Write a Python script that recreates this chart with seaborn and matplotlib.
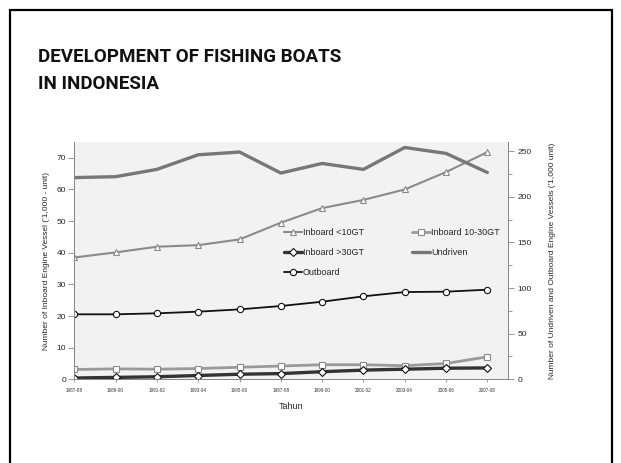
import matplotlib
matplotlib.use("Agg")
import matplotlib.pyplot as plt
import seaborn as sns
import pandas as pd
from matplotlib.patches import Rectangle

years = ["1987-88", "1989-90", "1991-92", "1993-94", "1995-96", "1997-98",
         "1999-00", "2001-02", "2003-04", "2005-06", "2007-08"]
inboard_lt10 = [38.5, 40.1, 41.9, 42.4, 44.2, 49.5, 54.1, 56.7, 60.0, 65.5, 71.8]
inboard_10_30 = [3.1, 3.3, 3.2, 3.4, 3.8, 4.2, 4.6, 4.6, 4.3, 5.0, 7.1]
inboard_gt30 = [0.4, 0.6, 0.8, 1.2, 1.6, 1.8, 2.4, 2.9, 3.2, 3.5, 3.6]
outboard = [71.2, 71.2, 72.3, 74.1, 76.6, 80.3, 85.0, 90.9, 95.6, 96.0, 98.2]
undriven = [221, 222, 230, 246, 249, 226, 236.5, 230, 254, 247.5, 226.6]

sns.set_style("white")
plt.rcParams['font.family'] = ['Liberation Sans', 'DejaVu Sans']

fig = plt.figure(figsize=(6.21, 4.63), dpi=100)
fig.patches.append(Rectangle((10/621, -0.1), (612-10)/621, (453+0.1*463)/463,
                             transform=fig.transFigure, fill=False,
                             edgecolor='black', linewidth=1.6))
fig.text(38/621, 1 - 89/463, "DEVELOPMENT OF FISHING BOATS\nIN INDONESIA",
         fontsize=13.5, fontweight='bold', family=['Roboto', 'DejaVu Sans'],
         va='baseline', ha='left', linespacing=1.65, color='#111111')

ax = fig.add_axes([74.3/621, 1 - 379.3/463, (508 - 74.3)/621, (379.3 - 142)/463])
ax.set_facecolor('#f2f2f2')
ax2 = ax.twinx()

x = list(range(len(years)))
df = pd.DataFrame({"x": x, "lt10": inboard_lt10, "m10_30": inboard_10_30,
                   "gt30": inboard_gt30, "out": outboard, "und": undriven})

sns.lineplot(data=df, x="x", y="lt10", ax=ax, color='#8a8a8a', lw=1.5,
             marker='^', markersize=5, markerfacecolor='white',
             markeredgecolor='#8a8a8a', markeredgewidth=0.8, label="Inboard <10GT")
sns.lineplot(data=df, x="x", y="m10_30", ax=ax, color='#9a9a9a', lw=2.0,
             marker='s', markersize=4.5, markerfacecolor='white',
             markeredgecolor='#8a8a8a', markeredgewidth=0.8, label="Inboard 10-30GT")
sns.lineplot(data=df, x="x", y="gt30", ax=ax, color='#333333', lw=2.4,
             marker='D', markersize=4, markerfacecolor='white',
             markeredgecolor='#111111', markeredgewidth=0.8, label="Inboard >30GT")
sns.lineplot(data=df, x="x", y="out", ax=ax2, color='#111111', lw=1.3,
             marker='o', markersize=4.5, markerfacecolor='white',
             markeredgecolor='#111111', markeredgewidth=0.8, label="Outboard")
sns.lineplot(data=df, x="x", y="und", ax=ax2, color='#777777', lw=2.4,
             label="Undriven")

h1, l1 = ax.get_legend_handles_labels()
h2, l2 = ax2.get_legend_handles_labels()
hd = dict(zip(l1 + l2, h1 + h2))
order = ["Inboard <10GT", "Inboard >30GT", "Outboard", "Inboard 10-30GT", "Undriven"]
for a in (ax, ax2):
    if a.get_legend() is not None:
        a.get_legend().remove()
leg = ax2.legend([hd[k] for k in order], order, ncol=2, loc='upper left',
                 bbox_to_anchor=((284 - 74.3)/(508 - 74.3), 1 - (228 - 142)/(379.3 - 142)),
                 frameon=False, fontsize=6.5, handlelength=2.0, handletextpad=0.1,
                 columnspacing=5.3, labelspacing=1.2, borderaxespad=0, borderpad=0)

ax.set_xlim(0, 10.5)
ax.set_ylim(0, 75)
ax2.set_ylim(0, 260)
ax.set_xticks(x)
ax.set_xticklabels(years, fontsize=3.3, color='#333333')
ax.set_yticks(range(0, 71, 10))
ax2.set_yticks(range(0, 251, 50))
ax2.set_yticks(range(25, 251, 50), minor=True)
ax.tick_params(axis='y', labelsize=6, length=4, width=0.6, color='#888888', pad=2, left=True)
ax.tick_params(axis='x', length=2.5, width=0.6, color='#888888', pad=4, bottom=True)
ax2.tick_params(axis='y', which='major', labelsize=6, length=4, width=0.6,
                color='#888888', pad=3, right=True)
ax2.tick_params(axis='y', which='minor', length=3, width=0.6, color='#888888', right=True)

ax.set_xlabel("Tahun", fontsize=6.5, labelpad=6)
ax.set_ylabel("Number of Inboard Engine Vessel ('1,000 - unit)", fontsize=6, labelpad=5)
ax2.set_ylabel("Number of Undriven and Outboard Engine Vessels ('1,000 unit)",
               fontsize=6, labelpad=12)

for a in (ax, ax2):
    a.spines['top'].set_visible(False)
    for s in ['left', 'right', 'bottom']:
        a.spines[s].set_color('#888888')
        a.spines[s].set_linewidth(0.7)

fig.savefig("out.png", dpi=100)
